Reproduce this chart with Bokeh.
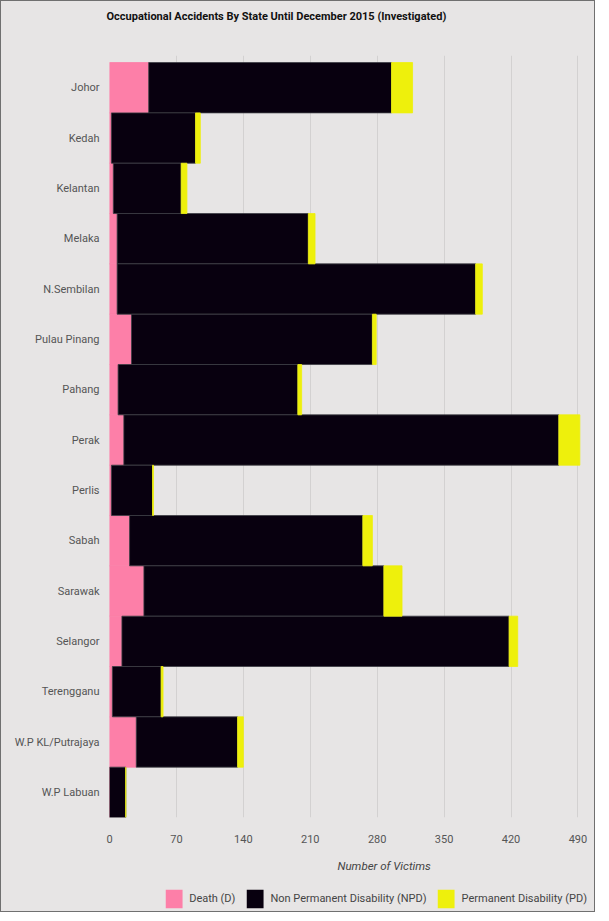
from bokeh.plotting import figure
from bokeh.models import ColumnDataSource, FixedTicker, Range1d, Legend, Title
from bokeh.layouts import column
from bokeh.embed import file_html
from bokeh.resources import INLINE

states = ["Johor", "Kedah", "Kelantan", "Melaka", "N.Sembilan", "Pulau Pinang",
          "Pahang", "Perak", "Perlis", "Sabah", "Sarawak", "Selangor",
          "Terengganu", "W.P KL/Putrajaya", "W.P Labuan"]
death = [41, 2, 4, 8, 8, 23, 9, 15, 2, 21, 36, 13, 3, 28, 0]
npd = [254, 88, 71, 200, 375, 252, 188, 455, 43, 244, 251, 405, 51, 106, 17]
pdis = [22, 5, 6, 7, 7, 4, 4, 22, 1, 10, 19, 9, 2, 6, 0]
x_ticks = [0, 70, 140, 210, 280, 350, 420, 490]
series_names = ["Death (D)", "Non Permanent Disability (NPD)", "Permanent Disability (PD)"]
colors = ["#fd7fa8", "#08000f", "#eef00c"]
outlines = ["#fd7fa8", "#3c3c44", "#eef00c"]

FONT = "Roboto"
BG = "#e7e5e5"

source = ColumnDataSource(dict(y=list(range(len(states))), d=death, npd=npd, pd=pdis))

# ---- main chart ----
p = figure(width=593, height=886, output_backend="svg", toolbar_location=None,
           x_range=Range1d(0, 500), y_range=Range1d(len(states) - 0.5, -0.64),
           min_border_left=108, min_border_right=7, min_border_top=54, min_border_bottom=70,
           background_fill_color=BG, border_fill_color=BG, outline_line_color=None)

p.hbar_stack(["d", "npd", "pd"], y="y", height=1.0, source=source,
             color=colors, line_color=outlines, line_width=0.8)

# spacer nearest the frame, then the chart title further up
p.add_layout(Title(text=" ", text_font=FONT, text_font_size="11px", standoff=15), "above")
p.add_layout(Title(text="Occupational Accidents By State Until December 2015 (Investigated)",
                   text_font=FONT, text_font_size="11px", text_font_style="bold",
                   text_color="#111111", align="left", offset=-3, standoff=6), "above")

p.xaxis.ticker = FixedTicker(ticks=x_ticks)
p.yaxis.ticker = FixedTicker(ticks=list(range(len(states))))
p.yaxis.major_label_overrides = {i: s for i, s in enumerate(states)}
for ax in (p.xaxis[0], p.yaxis[0]):
    ax.axis_line_color = None
    ax.major_tick_line_color = None
    ax.minor_tick_line_color = None
    ax.major_tick_out = 0
    ax.major_tick_in = 0
    ax.major_label_text_font = FONT
    ax.major_label_text_font_size = "11px"
    ax.major_label_text_color = "#555555"
p.xaxis.major_label_standoff = 17
p.yaxis.major_label_standoff = 10

p.ygrid.grid_line_color = None
p.xgrid.grid_line_color = "#d3d1d1"
p.xgrid.grid_line_width = 1

xlabel = Title(text="Number of Victims", align="left", offset=228, standoff=23,
               text_font=FONT, text_font_size="11.5px", text_font_style="italic",
               text_color="#444444")
p.add_layout(xlabel, "below")

# ---- legend strip (its bars are hidden, only their legend entries show) ----
pl = figure(width=593, height=24, output_backend="svg", toolbar_location=None,
            x_range=Range1d(-20, -10), y_range=Range1d(-0.5, 0.5),
            min_border_left=0, min_border_top=0, min_border_bottom=0, min_border_right=7,
            background_fill_color=BG, border_fill_color=BG, outline_line_color=None)
pl.axis.visible = False
pl.grid.visible = False
leg_renderers = pl.hbar_stack(["d", "npd", "pd"], y="y", height=1.0, source=source,
                              color=colors, line_color=None)
for r in leg_renderers:
    r.visible = False
legend = Legend(items=[(n, [r]) for n, r in zip(series_names, leg_renderers)],
                location="top_right", orientation="horizontal",
                glyph_width=21, glyph_height=23, label_standoff=5, spacing=9,
                padding=0, margin=0, background_fill_alpha=0, border_line_color=None,
                label_text_font=FONT, label_text_font_size="11px",
                label_text_color="#444444", label_height=23)
pl.add_layout(legend, "center")

layout = column(p, pl, spacing=0,
                styles={"border": "1px solid #707070", "background-color": BG})

open("out.html", "w").write(file_html(layout, INLINE))
